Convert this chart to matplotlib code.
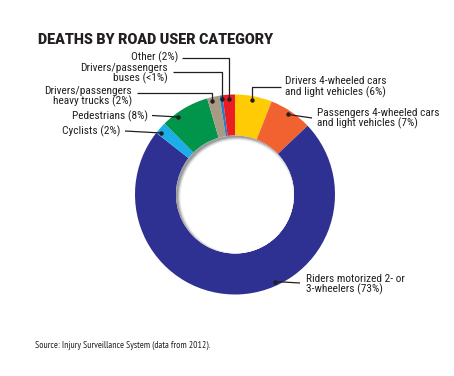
import matplotlib
matplotlib.use("Agg")
import matplotlib.pyplot as plt
from matplotlib.patches import Circle
import numpy as np

# ---- data ----
categories = ["Drivers 4-wheeled cars\nand light vehicles (6%)",
              "Passengers 4-wheeled cars\nand light vehicles (7%)",
              "Riders motorized 2- or\n3-wheelers (73%)",
              "Cyclists (2%)",
              "Pedestrians (8%)",
              "Drivers/passengers\nheavy trucks (2%)",
              "Drivers/passengers\nbuses (<1%)",
              "Other (2%)"]
values = [6, 7, 73, 2, 8, 2, 0.5, 2]
colors = ["#FFCB05", "#F26130", "#2E3192", "#1CAEE8", "#00954A", "#A89B84", "#2A7BC2", "#EC1C24"]

title = "DEATHS BY ROAD USER CATEGORY"
source = "Source: Injury Surveillance System (data from 2012)."

# ---- layout (pixel space, y measured from top) ----
W, H = 454, 376
def Y(py):
    return H - py

cx, cy = 235, 194.5
R_out, R_in = 100, 59
txtc = "#231F20"
FONT = ["Roboto Condensed", "DejaVu Sans"]

fig = plt.figure(figsize=(W / 100, H / 100), dpi=100)
ax = fig.add_axes([0, 0, 1, 1])
wedges, _ = ax.pie(values, colors=colors, startangle=90, counterclock=False,
                   radius=R_out, center=(cx, Y(cy)),
                   wedgeprops=dict(width=R_out - R_in, edgecolor="none"))
ax.set_xlim(0, W)
ax.set_ylim(0, H)
ax.set_aspect("equal")
ax.axis("off")

# inner hole with soft shadow (upper-left)
hole = Circle((cx, Y(cy)), R_in, facecolor="#9c9c9c", edgecolor="none", zorder=3)
ax.add_patch(hole)
off = 2.2
for r, a in zip(np.linspace(R_in + 0.5, R_in - 3, 6), [0.2, 0.3, 0.4, 0.55, 0.75, 1.0]):
    c = Circle((cx + off, Y(cy) - off), r, facecolor="white", edgecolor="none", alpha=a, zorder=4)
    ax.add_patch(c)
    c.set_clip_path(hole)
solid = Circle((cx + off, Y(cy) - off), R_in - 3, facecolor="white", edgecolor="none", zorder=5)
ax.add_patch(solid)
solid.set_clip_path(hole)

# annotation layout: dot fraction within wedge (clockwise), text anchor, ha, line y
fracs = [0.47, 0.48, 0.415, 0.25, 0.3, 0.3, 0.5, 0.5]
layout = [
    # (text_x, text_y, ha, line_end_x, line_y, mode)
    (285, 87, "left", 281, 87, "up"),
    (317, 118.5, "left", 312, 118, "side"),
    (306, 284.5, "left", 300, 283, "side"),
    (120, 131.5, "right", 125, 131, "side"),
    (148, 116, "right", 152, 115.5, "side"),
    (132, 96.5, "right", 137, 93, "up"),
    (168, 73.5, "right", 173, 72, "up"),
    (178, 57.5, "right", 182, 57.5, "up"),
]

for w, f, lay, lab in zip(wedges, fracs, layout, categories):
    ang = np.deg2rad(w.theta2 - f * (w.theta2 - w.theta1))
    r = 0.96 * R_out
    dx, dy = cx + r * np.cos(ang), Y(cy) + r * np.sin(ang)
    tx, ty, ha, lx, ly, mode = lay
    if mode == "up":
        xs = [dx, dx, lx]
        ys = [dy, Y(ly), Y(ly)]
    else:
        xs = [dx, lx]
        ys = [dy, Y(ly)]
    ax.plot(xs, ys, color=txtc, lw=0.9, zorder=6, solid_capstyle="butt")
    ax.plot([dx], [dy], "o", color=txtc, ms=2.2, zorder=7)
    ax.text(tx, Y(ty), lab, ha=ha, va="center", fontsize=8.2, color=txtc,
            family=FONT, linespacing=0.98, zorder=8)

ax.text(38, Y(40.5), title, ha="left", va="center", fontsize=10.3, fontweight=900,
        color=txtc, family=["Roboto", "DejaVu Sans"])
ax.text(35, Y(345), source, ha="left", va="center", fontsize=6.9, color=txtc,
        family=["PT Sans Narrow", "DejaVu Sans"])

fig.savefig("out.png", dpi=100)
